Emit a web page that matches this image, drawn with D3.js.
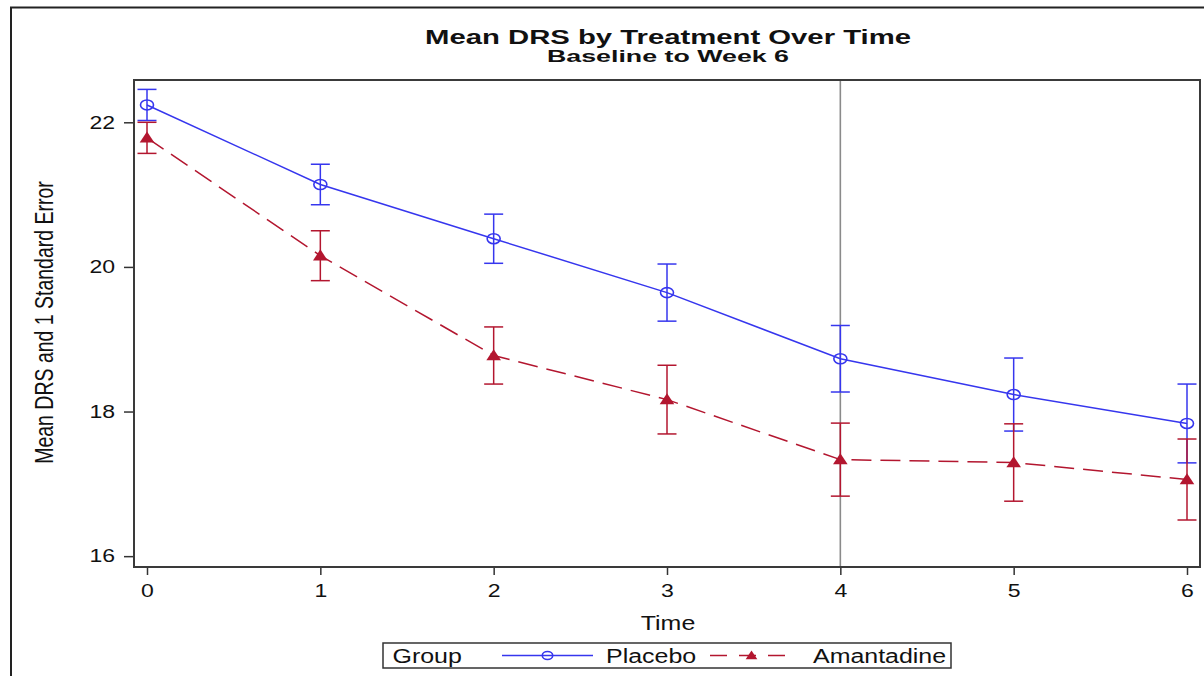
<!DOCTYPE html>
<html><head><meta charset="utf-8">
<script src="https://cdn.jsdelivr.net/npm/d3@7"></script>
<style>
body{margin:0;background:#fff}
svg{display:block}
text{font-family:"Liberation Sans",Arial,sans-serif;fill:#111}
</style>
</head><body>
<svg id="c" width="1204" height="676"></svg>
<script>
// ---------- data ----------
const weeks = [0, 1, 2, 3, 4, 5, 6];
const xTickLabels = ["0", "1", "2", "3", "4", "5", "6"];
const yTickValues = [16, 18, 20, 22];
const placeboMean = [22.24, 21.14, 20.39, 19.645, 18.73, 18.235, 17.835];
const placeboSE   = [0.215, 0.28, 0.34, 0.395, 0.46, 0.505, 0.545];
const amantadineMean = [21.785, 20.155, 18.775, 18.165, 17.335, 17.295, 17.06];
const amantadineSE   = [0.215, 0.345, 0.395, 0.475, 0.505, 0.535, 0.56];
const seriesNames = ["Placebo", "Amantadine"];
const refWeek = 4;
const titleText = "Mean DRS by Treatment Over Time";
const subtitleText = "Baseline to Week 6";
const xLabel = "Time";
const yLabel = "Mean DRS and 1 Standard Error";
const legendTitle = "Group";

// ---------- layout / style ----------
const SX = 1.28;              // horizontal stretch of the original image
const BLUE = "#3636ee", RED = "#b3162f", REF = "#8a8a8a";
const FONT = '"Liberation Sans", Arial, sans-serif';
const plot = {left: 134, right: 1200, top: 80, bottom: 567};

const svg = d3.select("#c");
const x = d3.scaleLinear().domain([-0.075, 6.075]).range([plot.left, plot.right]);
const y = d3.scaleLinear().domain([15.85, 22.585]).range([plot.bottom, plot.top]);

function stretch(sel, sx) {
  sel.each(function () {
    const t = d3.select(this);
    const tx = +t.attr("x") || 0, ty = +t.attr("y") || 0;
    t.attr("x", 0).attr("y", 0).attr("transform", `translate(${tx},${ty}) scale(${sx},1)`);
  });
}

// outer frame
svg.append("rect").attr("x", 11).attr("y", 7.5).attr("width", 1400).attr("height", 900)
  .attr("fill", "none").attr("stroke", "#222").attr("stroke-width", 2);

// titles
svg.append("text").attr("x", 668 - 243).attr("y", 44).attr("font-size", 21).attr("font-weight", "bold")
  .attr("textLength", 486).attr("lengthAdjust", "spacingAndGlyphs").text(titleText);
svg.append("text").attr("x", 668 - 121).attr("y", 62).attr("font-size", 17).attr("font-weight", "bold")
  .attr("textLength", 242).attr("lengthAdjust", "spacingAndGlyphs").text(subtitleText);

// axes
const gy = svg.append("g").attr("transform", `translate(${plot.left},0)`)
  .call(d3.axisLeft(y).tickValues(yTickValues).tickSize(10).tickPadding(9).tickFormat(d3.format("d")));
gy.attr("font-family", FONT).attr("font-size", 18);
gy.select(".domain").remove();
gy.selectAll(".tick line").attr("stroke", "#333").attr("stroke-width", 1.5);
gy.selectAll(".tick text").attr("fill", "#222");
stretch(gy.selectAll(".tick text"), SX);

const gx = svg.append("g").attr("transform", `translate(0,${plot.bottom})`)
  .call(d3.axisBottom(x).tickValues(weeks).tickSize(8).tickPadding(9).tickFormat((d, i) => xTickLabels[i]));
gx.attr("font-family", FONT).attr("font-size", 18);
gx.select(".domain").remove();
gx.selectAll(".tick line").attr("stroke", "#333").attr("stroke-width", 1.5);
gx.selectAll(".tick text").attr("fill", "#222");
stretch(gx.selectAll(".tick text"), SX);

// axis labels
svg.append("text").attr("transform", `translate(668,629.5) scale(${SX},1)`)
  .attr("text-anchor", "middle").attr("font-size", 19.5).text(xLabel);
svg.append("text").attr("transform", `translate(53,322.5) rotate(-90) scale(1,${SX})`)
  .attr("text-anchor", "middle").attr("font-size", 19.5).text(yLabel);

// reference line
svg.append("line").attr("x1", x(refWeek)).attr("x2", x(refWeek))
  .attr("y1", plot.top).attr("y2", plot.bottom).attr("stroke", REF).attr("stroke-width", 1.6);

const series = [
  {name: seriesNames[0], mean: placeboMean, se: placeboSE, color: BLUE, dash: null, marker: "circle"},
  {name: seriesNames[1], mean: amantadineMean, se: amantadineSE, color: RED, dash: "20,9", marker: "triangle"}
];

const line = d3.line().x((d, i) => x(weeks[i])).y(d => y(d));
const circleSym = d3.symbol().type(d3.symbolCircle);
const triSym = d3.symbol().type(d3.symbolTriangle);

// error bars
series.forEach(s => {
  const g = svg.append("g").attr("stroke", s.color).attr("stroke-width", 1.5).attr("fill", "none");
  weeks.forEach((w, i) => {
    const cx = x(w), lo = y(s.mean[i] - s.se[i]), hi = y(s.mean[i] + s.se[i]);
    g.append("line").attr("x1", cx).attr("x2", cx).attr("y1", lo).attr("y2", hi);
    g.append("line").attr("x1", cx - 9.5).attr("x2", cx + 9.5).attr("y1", lo).attr("y2", lo);
    g.append("line").attr("x1", cx - 9.5).attr("x2", cx + 9.5).attr("y1", hi).attr("y2", hi);
  });
});

// lines
series.forEach(s => {
  svg.append("path").attr("d", line(s.mean)).attr("fill", "none").attr("stroke", s.color)
    .attr("stroke-width", 1.5).attr("stroke-dasharray", s.dash);
});

// markers
function drawMarker(g, s, cx, cy, k) {
  if (s.marker === "circle") {
    g.append("path").attr("d", circleSym.size(Math.PI * 25 * k * k)())
      .attr("transform", `translate(${cx},${cy}) scale(1.3,1)`)
      .attr("fill", "none").attr("stroke", s.color).attr("stroke-width", 1.6)
      .attr("vector-effect", "non-scaling-stroke");
  } else {
    g.append("path").attr("d", triSym.size(70 * k * k)())
      .attr("transform", `translate(${cx},${cy + 1 * k}) scale(1.15,1)`)
      .attr("fill", s.color).attr("stroke", "none");
  }
}
series.forEach(s => {
  const g = svg.append("g");
  weeks.forEach((w, i) => drawMarker(g, s, x(w), y(s.mean[i]), 1));
});

// plot frame
svg.append("rect").attr("x", plot.left).attr("y", plot.top)
  .attr("width", plot.right - plot.left).attr("height", plot.bottom - plot.top)
  .attr("fill", "none").attr("stroke", "#3a3a3a").attr("stroke-width", 2);

// legend
const lg = svg.append("g");
lg.append("rect").attr("x", 383).attr("y", 643).attr("width", 568).attr("height", 25)
  .attr("fill", "#fff").attr("stroke", "#333").attr("stroke-width", 1.5);
lg.append("text").attr("transform", `translate(392.5,662.5) scale(${SX},1)`).attr("font-size", 19.5).text(legendTitle);
const legendItems = [
  {s: series[0], x1: 502, x2: 593, tx: 606},
  {s: series[1], x1: 710, x2: 793, tx: 813}
];
legendItems.forEach(it => {
  lg.append("line").attr("x1", it.x1).attr("x2", it.x2).attr("y1", 655.5).attr("y2", 655.5)
    .attr("stroke", it.s.color).attr("stroke-width", 1.5)
    .attr("stroke-dasharray", it.s.dash ? "17,12" : null);
  drawMarker(lg, it.s, (it.x1 + it.x2) / 2, 655.5, 0.8);
  lg.append("text").attr("transform", `translate(${it.tx},662.5) scale(${SX},1)`)
    .attr("font-size", 19.5).text(it.s.name);
});
</script>
</body></html>
